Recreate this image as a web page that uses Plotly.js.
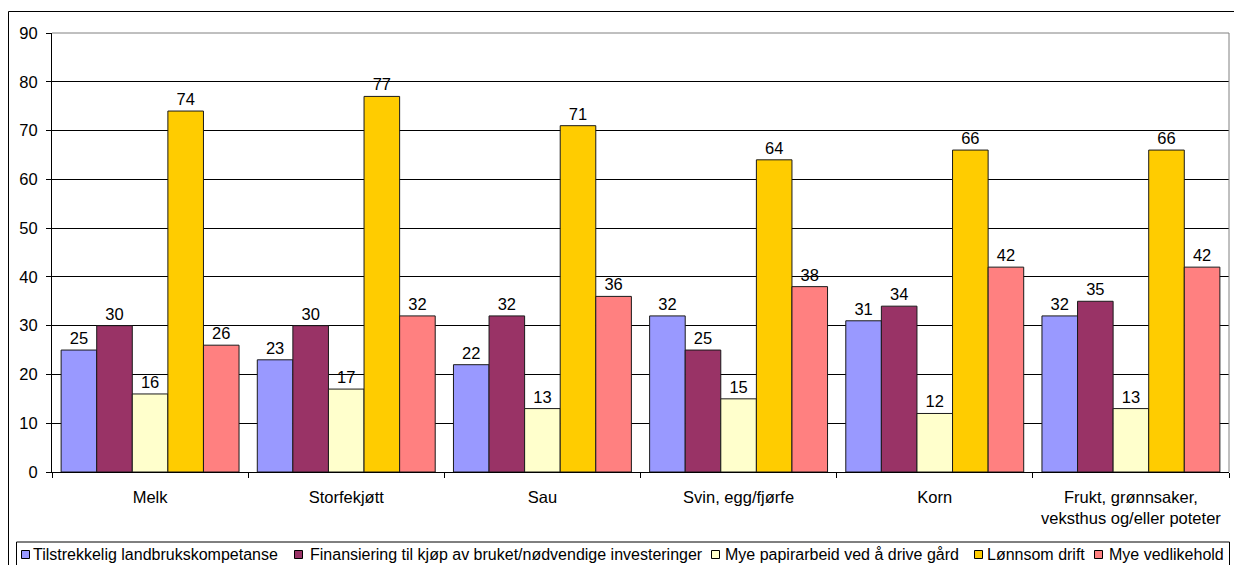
<!DOCTYPE html>
<html>
<head>
<meta charset="utf-8">
<script src="https://cdn.plot.ly/plotly-3.0.1.min.js"></script>
<style>html,body{margin:0;padding:0;background:#fff;}#chart{width:1234px;height:565px;}</style>
</head>
<body>
<div id="chart"></div>
<script>
// ---- data ----
const categories = ['Melk', 'Storfekjøtt', 'Sau', 'Svin, egg/fjørfe', 'Korn', 'Frukt, grønnsaker,<br>veksthus og/eller poteter'];
const seriesNames = ['Tilstrekkelig landbrukskompetanse', 'Finansiering til kjøp av bruket/nødvendige investeringer', 'Mye papirarbeid ved å drive gård', 'Lønnsom drift', 'Mye vedlikehold'];
const kompetanse = [25, 23, 22, 32, 31, 32];
const finansiering = [30, 30, 32, 25, 34, 35];
const papirarbeid = [16, 17, 13, 15, 12, 13];
const lonnsomDrift = [74, 77, 71, 64, 66, 66];
const vedlikehold = [26, 32, 36, 38, 42, 42];
const seriesValues = [kompetanse, finansiering, papirarbeid, lonnsomDrift, vedlikehold];
const seriesColors = ['#9999FF', '#993366', '#FFFFCC', '#FFCC00', '#FF8080'];
const yTicks = [0, 10, 20, 30, 40, 50, 60, 70, 80, 90];

// ---- layout geometry (pixels) ----
const W = 1234, H = 565;
const M = {l: 52, r: 5, t: 33, b: 93};
const PW = W - M.l - M.r, PH = H - M.t - M.b;
const px = x => (x - M.l) / PW;
const py = y => (H - M.b - y) / PH;
const FONT = 'Liberation Sans, Arial, sans-serif';
const FS = 16.5;
const LFS = 16;

const traces = seriesValues.map((vals, i) => ({
  type: 'bar',
  name: seriesNames[i],
  x: categories,
  y: vals,
  text: vals.map(String),
  textposition: 'outside',
  textfont: {family: FONT, size: FS, color: '#000'},
  cliponaxis: false,
  marker: {color: seriesColors[i], line: {color: '#1a1a1a', width: 1}},
  hoverinfo: 'skip'
}));

const shapes = [
  // outer chart border
  {type: 'rect', xref: 'paper', yref: 'paper', x0: px(8.5), x1: px(1245), y0: py(11.5), y1: py(600),
   line: {color: '#000', width: 1}, fillcolor: 'rgba(0,0,0,0)', layer: 'below'},
  // plot area top & right border (grey)
  {type: 'line', xref: 'paper', yref: 'paper', x0: 0, x1: 1, y0: 1, y1: 1, line: {color: '#808080', width: 1}},
  {type: 'line', xref: 'paper', yref: 'paper', x0: 1, x1: 1, y0: 0, y1: 1, line: {color: '#808080', width: 1}},
  // legend box
  {type: 'rect', xref: 'paper', yref: 'paper', x0: px(16.5), x1: px(1229.5), y0: py(542), y1: py(580),
   line: {color: '#000', width: 1}, fillcolor: '#fff'}
];

const legendSquareX = [21, 294, 711, 974, 1094];
const legendTextX = [31, 308, 723, 985, 1107];
const annotations = [];
seriesNames.forEach((name, i) => {
  shapes.push({type: 'rect', xref: 'paper', yref: 'paper',
    x0: px(legendSquareX[i] + 0.5), x1: px(legendSquareX[i] + 8.5), y0: py(550.5), y1: py(558.5),
    line: {color: '#000', width: 1}, fillcolor: seriesColors[i]});
  annotations.push({xref: 'paper', yref: 'paper', x: px(legendTextX[i]), y: py(554.5),
    xanchor: 'left', yanchor: 'middle', showarrow: false, text: name,
    font: {family: FONT, size: LFS, color: '#000'}});
});

const layout = {
  width: W, height: H,
  margin: M,
  paper_bgcolor: '#fff', plot_bgcolor: '#fff',
  font: {family: FONT, size: FS, color: '#000'},
  barmode: 'group',
  bargap: 0.093,
  bargroupgap: 0,
  showlegend: false,
  xaxis: {
    type: 'category',
    showline: true, linecolor: '#000', linewidth: 1,
    ticks: 'outside', tickson: 'boundaries', ticklen: 5, tickcolor: '#000',
    tickfont: {family: FONT, size: FS, color: '#000'},
    ticklabelstandoff: 10,
    showgrid: false, zeroline: false, fixedrange: true
  },
  yaxis: {
    range: [0, 90], tickvals: yTicks, ticktext: yTicks.map(String),
    showline: true, linecolor: '#000', linewidth: 1,
    ticks: 'outside', ticklen: 5, tickcolor: '#000',
    tickfont: {family: FONT, size: FS, color: '#000'},
    ticklabelstandoff: 5,
    showgrid: true, gridcolor: '#000', gridwidth: 1,
    zeroline: false, fixedrange: true
  },
  shapes: shapes,
  annotations: annotations
};

Plotly.newPlot('chart', traces, layout, {displayModeBar: false, staticPlot: true});
</script>
</body>
</html>
